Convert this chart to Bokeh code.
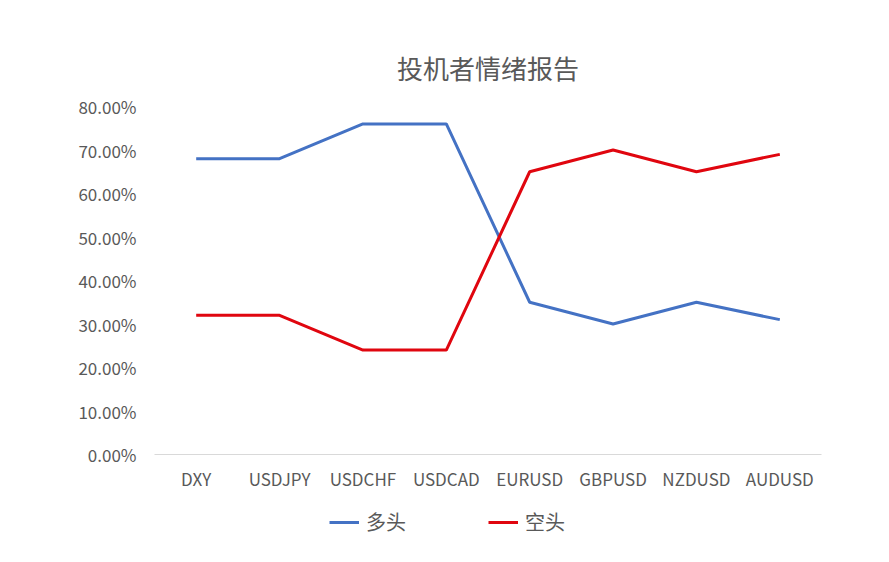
from bokeh.plotting import figure
from bokeh.layouts import column
from bokeh.models import Range1d, NumeralTickFormatter, Legend, LegendItem, ColumnDataSource
from bokeh.embed import file_html
from bokeh.resources import INLINE

categories = ["DXY", "USDJPY", "USDCHF", "USDCAD", "EURUSD", "GBPUSD", "NZDUSD", "AUDUSD"]
long_vals = [0.68, 0.68, 0.76, 0.76, 0.35, 0.30, 0.35, 0.31]
short_vals = [0.32, 0.32, 0.24, 0.24, 0.65, 0.70, 0.65, 0.69]
series_names = ["多头", "空头"]
title_text = "投机者情绪报告"

FONT = "Noto Sans CJK SC"
GRAY = "#595959"
BLUE = "#4472C4"
RED = "#E0060F"

src = ColumnDataSource(dict(cat=categories, long=long_vals, short=short_vals))

p = figure(x_range=categories, y_range=Range1d(0, 0.8),
           frame_width=667, frame_height=348, output_backend="svg", toolbar_location=None,
           min_border_left=154, min_border_right=60, min_border_top=106, min_border_bottom=46,
           title=title_text)
p.outline_line_color = None
p.background_fill_color = "white"
p.border_fill_color = "white"

p.title.align = "center"
p.title.text_font = FONT
p.title.text_font_size = "26px"
p.title.text_font_style = "normal"
p.title.text_color = GRAY
p.title.standoff = 41

p.xgrid.grid_line_color = None
p.ygrid.grid_line_color = None

p.yaxis.formatter = NumeralTickFormatter(format="0.00%")
p.yaxis.ticker = [0, 0.1, 0.2, 0.3, 0.4, 0.5, 0.6, 0.7, 0.8]
p.yaxis.axis_line_color = None
p.yaxis.major_tick_line_color = None
p.yaxis.minor_tick_line_color = None
p.yaxis.major_label_text_font = FONT
p.yaxis.major_label_text_font_size = "17px"
p.yaxis.major_label_text_color = GRAY
p.yaxis.major_label_standoff = 12

p.xaxis.axis_line_color = "#d9d9d9"
p.xaxis.axis_line_width = 1
p.xaxis.major_tick_line_color = None
p.xaxis.minor_tick_line_color = None
p.xaxis.major_label_text_font = FONT
p.xaxis.major_label_text_font_size = "17px"
p.xaxis.major_label_text_color = GRAY
p.xaxis.major_label_standoff = 5

p.line("cat", "long", source=src, line_color=BLUE, line_width=3)
p.line("cat", "short", source=src, line_color=RED, line_width=3)

# legend strip below the chart
lg = figure(x_range=categories, y_range=Range1d(10, 11),
            frame_width=881, frame_height=44, output_backend="svg", toolbar_location=None,
            min_border_left=0, min_border_right=0, min_border_top=0, min_border_bottom=0)
lg.axis.visible = False
lg.grid.visible = False
lg.outline_line_color = None
lg.border_fill_color = "white"
r1 = lg.line("cat", "long", source=src, line_color=BLUE, line_width=3)
r2 = lg.line("cat", "short", source=src, line_color=RED, line_width=3)

legend = Legend(items=[LegendItem(label=series_names[0], renderers=[r1]),
                       LegendItem(label=series_names[1], renderers=[r2])],
                orientation="horizontal", location=(329, 8),
                label_text_font=FONT, label_text_font_size="20px", label_text_color=GRAY,
                glyph_width=30, label_standoff=7, spacing=82, border_line_color=None,
                background_fill_alpha=0, margin=0, padding=4)
lg.add_layout(legend, "center")

layout = column(p, lg, spacing=0)
open("out.html", "w").write(file_html(layout, INLINE))
